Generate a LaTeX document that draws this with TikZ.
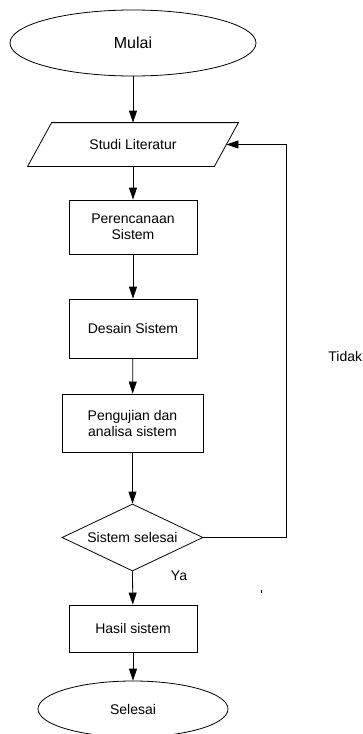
\documentclass[tikz,border=0pt]{standalone}
\usepackage{fontspec}
\setmainfont{Liberation Sans}
\usetikzlibrary{shapes.geometric,arrows.meta,calc}
\begin{document}
\begin{tikzpicture}[x=1pt,y=-1pt,
  line width=0.8pt,
  every node/.style={font=\fontsize{14}{16}\selectfont, align=center, inner sep=0pt},
  terminal/.style={draw, ellipse},
  procbox/.style={draw, rectangle},
  arr/.style={-{Triangle[length=12pt,width=8pt]}}]
\useasboundingbox (0,0) rectangle (363,734);
\node[terminal, minimum width=246pt, minimum height=66pt, font=\fontsize{16}{18}\selectfont] (mulai) at (133,43) {Mulai};
\node[minimum width=186pt, minimum height=43pt] (studi) at (133,144.5) {Studi Literatur};
\draw ($(studi.north west)+(12,0)$) -- ($(studi.north east)+(12,0)$) -- ($(studi.south east)+(-12,0)$) -- ($(studi.south west)+(-12,0)$) -- cycle;
\node[procbox, minimum width=128pt, minimum height=54pt] (plan) at (133,227) {Perencanaan\\Sistem};
\node[procbox, minimum width=128pt, minimum height=59pt] (desain) at (133,328.5) {Desain Sistem};
\node[procbox, minimum width=141pt, minimum height=58pt] (uji) at (132.5,423) {Pengujian dan\\analisa sistem};
\node[draw, diamond, aspect=2.1, minimum width=141pt, minimum height=67pt] (cek) at (132.5,537.5) {Sistem selesai};
\node[procbox, minimum width=128pt, minimum height=47pt] (hasil) at (133,628.5) {Hasil sistem};
\node[terminal, minimum width=190pt, minimum height=56pt] (selesai) at (133,709) {Selesai};
\coordinate (kanan) at (286,537.5);
\coordinate (atas) at (286,144.5);
\draw[arr] (mulai) -- (studi.north);
\draw[arr] (studi.south) -- (plan);
\draw[arr] (plan) -- (desain);
\draw[arr] (desain) -- (uji);
\draw[arr] (uji) -- (cek.north);
\draw[arr] (cek.south) -- (hasil);
\draw[arr] (hasil) -- (selesai);
\draw[arr] (cek.east) -- (kanan) -- (atas) -- (studi.east);
\node[anchor=west] (tidak) at (328,356) {Tidak};
\node (ya) at (179,576) {Ya};
\draw[line width=0.6pt] (261,590) -- (261,593);
\end{tikzpicture}
\end{document}
